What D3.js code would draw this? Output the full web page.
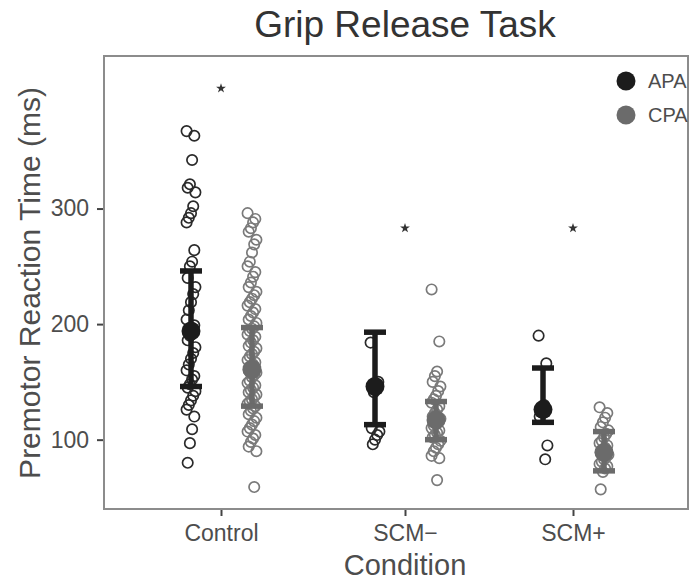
<!DOCTYPE html>
<html>
<head>
<meta charset="utf-8">
<script src="https://cdn.jsdelivr.net/npm/d3@7"></script>
<style>
  body { margin: 0; background: #fff; }
  text { font-family: "Liberation Sans", Arial, sans-serif; }
</style>
</head>
<body>
<svg id="chart" width="696" height="580"></svg>
<script>
var conditions = ['Control', 'SCM\u2212', 'SCM+'];
var groups = ['APA', 'CPA'];
var yTicks = [100, 200, 300];

// raw trials, per condition
var apaControl = [367, 363, 342, 321, 318, 314, 302, 296, 292, 288, 264, 254, 250, 240, 232, 226, 219, 212,
  204, 199, 196, 190, 186, 180, 175, 170, 165, 160, 155, 152, 148, 145, 142, 138, 134, 130, 126, 120, 109, 97, 80];
var cpaControl = [296, 291, 288, 283, 280, 273, 269, 262, 254, 250, 245, 241, 236, 232, 228, 225, 222, 219,
  216, 213, 210, 207, 204, 201, 198, 196, 194, 191, 189, 186, 184, 181, 179, 176, 174, 172, 169, 167, 165,
  162, 160, 158, 156, 154, 151, 149, 147, 145, 143, 141, 139, 137, 135, 133, 131, 129, 127, 125, 122, 119,
  116, 113, 110, 107, 104, 101, 98, 94, 90, 59];
var apaScmMinus = [184, 150, 146, 141, 110, 107, 104, 100, 96];
var cpaScmMinus = [230, 185, 159, 155, 150, 146, 142, 138, 135, 132, 129, 126, 123, 120, 118, 116, 114, 112,
  110, 108, 106, 104, 102, 99, 96, 93, 90, 86, 84, 65];
var apaScmPlus = [190, 166, 130, 124, 120, 95, 83];
var cpaScmPlus = [128, 123, 119, 115, 111, 108, 105, 102, 99, 97, 95, 93, 91, 89, 87, 85, 83, 81, 79, 77, 75, 72, 57];

// summary: mean and error bar ends, order Control, SCM-, SCM+
var apaMean = [194, 146, 126];
var apaLow = [146, 113, 115];
var apaHigh = [246, 193, 162];
var cpaMean = [161, 117, 89];
var cpaLow = [129, 100, 73];
var cpaHigh = [197, 133, 107];

var starValue = [404, 283, 283];

var svg = d3.select('#chart');
var colors = { APA: '#1c1c1c', CPA: '#6b6b6b' };
var strokes = { APA: '#2a2a2a', CPA: '#7a7a7a' };

var plotLeft = 104, plotRight = 688, plotTop = 56, plotBottom = 509;

var x = d3.scaleLinear().domain([0, 1, 2]).range([221, 405, 573]);
var dodge = d3.scaleOrdinal().domain(groups).range([-30, 31]);
var y = d3.scaleLinear().domain([40, 432]).range([plotBottom, plotTop]);

var raw = [
  { cond: 0, group: 'APA', values: apaControl },
  { cond: 0, group: 'CPA', values: cpaControl },
  { cond: 1, group: 'APA', values: apaScmMinus },
  { cond: 1, group: 'CPA', values: cpaScmMinus },
  { cond: 2, group: 'APA', values: apaScmPlus },
  { cond: 2, group: 'CPA', values: cpaScmPlus }
];

var summary = [];
conditions.forEach(function(c, i) {
  summary.push({ cond: i, group: 'APA', mean: apaMean[i], lo: apaLow[i], hi: apaHigh[i] });
  summary.push({ cond: i, group: 'CPA', mean: cpaMean[i], lo: cpaLow[i], hi: cpaHigh[i] });
});

// title
svg.append('text')
  .attr('x', 405).attr('y', 37)
  .attr('text-anchor', 'middle')
  .style('font-size', '37px').style('fill', '#333')
  .text('Grip Release Task');

// panel
svg.append('rect')
  .attr('x', plotLeft).attr('y', plotTop)
  .attr('width', plotRight - plotLeft).attr('height', plotBottom - plotTop)
  .attr('fill', 'none').attr('stroke', '#8c8c8c').attr('stroke-width', 2);

// y axis
var yAxis = d3.axisLeft(y).tickValues(yTicks).tickSize(6).tickPadding(8);
var gy = svg.append('g').attr('transform', 'translate(' + (plotLeft - 1) + ',0)').call(yAxis);
gy.select('.domain').remove();
gy.selectAll('line').attr('stroke', '#444').attr('stroke-width', 2);
gy.selectAll('text').style('font-size', '23px').style('fill', '#4d4d4d')
  .style('font-family', '"Liberation Sans", Arial, sans-serif');

// x axis
var xAxis = d3.axisBottom(x).tickValues([0, 1, 2]).tickFormat(function(i) { return conditions[i]; })
  .tickSize(6).tickPadding(9);
var gx = svg.append('g').attr('transform', 'translate(0,' + (plotBottom + 1) + ')').call(xAxis);
gx.select('.domain').remove();
gx.selectAll('line').attr('stroke', '#444').attr('stroke-width', 2);
gx.selectAll('text').style('font-size', '23px').style('fill', '#4d4d4d')
  .style('font-family', '"Liberation Sans", Arial, sans-serif');

// axis titles
svg.append('text')
  .attr('x', 405).attr('y', 575)
  .attr('text-anchor', 'middle')
  .style('font-size', '29px').style('fill', '#4d4d4d')
  .text('Condition');

svg.append('text')
  .attr('transform', 'translate(40,' + 283 + ') rotate(-90)')
  .attr('text-anchor', 'middle')
  .style('font-size', '30px').style('fill', '#4d4d4d')
  .text('Premotor Reaction Time (ms)');

// jittered trials
function jitter(i) { return ((i * 7) % 9 - 4) * 1.1; }

raw.forEach(function(s) {
  svg.append('g').selectAll('circle')
    .data(s.values)
    .join('circle')
    .attr('cx', function(d, i) { return x(s.cond) + dodge(s.group) + jitter(i); })
    .attr('cy', function(d) { return y(d); })
    .attr('r', 5.2)
    .attr('fill', 'none')
    .attr('stroke', strokes[s.group])
    .attr('stroke-width', 1.7);
});

// error bars and means
var eb = svg.append('g').selectAll('g')
  .data(summary)
  .join('g')
  .attr('transform', function(d) { return 'translate(' + (x(d.cond) + dodge(d.group)) + ',0)'; });

eb.append('line')
  .attr('y1', function(d) { return y(d.lo); })
  .attr('y2', function(d) { return y(d.hi); })
  .attr('stroke', function(d) { return colors[d.group]; })
  .attr('stroke-width', 5.5);

eb.selectAll('.cap')
  .data(function(d) { return [{ v: d.lo, g: d.group }, { v: d.hi, g: d.group }]; })
  .join('line')
  .attr('class', 'cap')
  .attr('x1', -11).attr('x2', 11)
  .attr('y1', function(d) { return y(d.v); })
  .attr('y2', function(d) { return y(d.v); })
  .attr('stroke', function(d) { return colors[d.g]; })
  .attr('stroke-width', 5.5);

eb.append('circle')
  .attr('cy', function(d) { return y(d.mean); })
  .attr('r', 9.5)
  .attr('fill', function(d) { return colors[d.group]; });

// significance stars
svg.append('g').selectAll('path')
  .data(starValue)
  .join('path')
  .attr('transform', function(d, i) { return 'translate(' + x(i) + ',' + y(d) + ')'; })
  .attr('d', d3.symbol(d3.symbolStar).size(30))
  .attr('fill', '#333');

// legend
var lg = svg.append('g').selectAll('g')
  .data(groups)
  .join('g')
  .attr('transform', function(d, i) { return 'translate(626,' + (81 + i * 34) + ')'; });

lg.append('circle')
  .attr('r', 9.5)
  .attr('fill', function(d) { return colors[d]; });

lg.append('text')
  .attr('x', 22).attr('y', 7)
  .style('font-size', '20px').style('fill', '#4d4d4d')
  .text(function(d) { return d; });
</script>
</body>
</html>
